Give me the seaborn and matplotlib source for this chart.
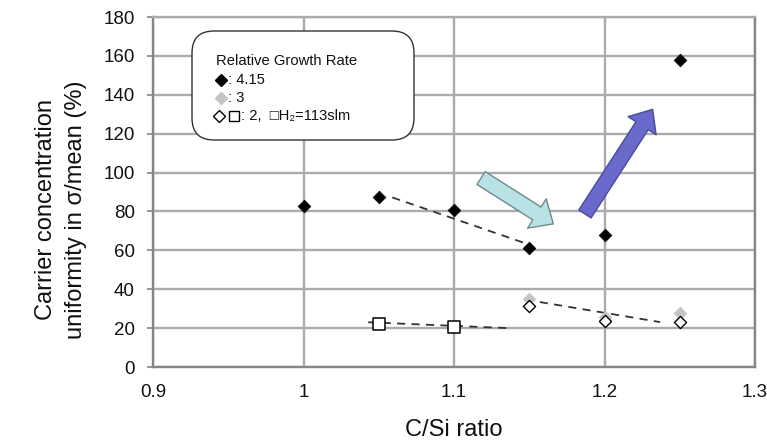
import matplotlib
matplotlib.use("Agg")
import matplotlib.pyplot as plt
import seaborn as sns
from matplotlib.lines import Line2D
from matplotlib.patches import FancyBboxPatch
from matplotlib.transforms import IdentityTransform

# ---- data ----
cs_415 = [1.0, 1.05, 1.1, 1.15, 1.2, 1.25]
u_415 = [82.6, 87.3, 81.0, 61.0, 68.0, 158.0]
cs_3 = [1.15, 1.2, 1.25]
u_3 = [35.0, 25.5, 28.0]
cs_2 = [1.15, 1.2, 1.25]
u_2 = [31.3, 23.5, 23.0]
cs_h2 = [1.05, 1.1]
u_h2 = [22.0, 20.5]

trend_415_x = [1.059, 1.146]
trend_415_y = [87.2, 64.0]
trend_h2_x = [1.043, 1.136]
trend_h2_y = [23.0, 20.0]
trend_2_x = [1.157, 1.237]
trend_2_y = [33.4, 23.1]

arrow_down_xy = [(1.118, 97.2), (1.166, 73.6)]
arrow_up_xy = [(1.187, 78.7), (1.232, 132.5)]

x_ticks = [0.9, 1.0, 1.1, 1.2, 1.3]
x_ticklabels = ["0.9", "1", "1.1", "1.2", "1.3"]
y_ticks = [0, 20, 40, 60, 80, 100, 120, 140, 160, 180]

legend_title = "Relative Growth Rate"
legend_labels = [": 4.15", ": 3", ": 2,  □H₂=113slm"]

sns.set_theme(style="white")
plt.rcParams["font.family"] = ["Liberation Sans", "DejaVu Sans"]

W, H = 767, 445
fig = plt.figure(figsize=(W / 100, H / 100), dpi=100)
ax = fig.add_axes([153 / W, 1 - 367 / H, 602 / W, 350 / H])

grid_c = "#ababab"
ax.set_xlim(0.9, 1.3)
ax.set_ylim(0, 180)
ax.set_xticks(x_ticks)
ax.set_xticklabels(x_ticklabels)
ax.set_yticks(y_ticks)
ax.grid(True, color=grid_c, linewidth=1.7)
ax.set_axisbelow(True)
for s in ax.spines.values():
    s.set_color("#858585")
    s.set_linewidth(1.7)
ax.spines["top"].set_color(grid_c)
ax.tick_params(axis="y", which="both", left=True, length=4, width=1.2,
               color="#858585", labelsize=13.5, pad=9, labelcolor="#111111")
ax.tick_params(axis="x", which="both", bottom=False, labelsize=13.5, pad=6,
               labelcolor="#111111")

# trend lines
dash_kw = dict(color="#333333", linewidth=1.3, dashes=(4.5, 3.5), zorder=2)
ax.plot(trend_415_x, trend_415_y, **dash_kw)
ax.plot(trend_h2_x, trend_h2_y, **dash_kw)
ax.plot(trend_2_x, trend_2_y, **dash_kw)

# markers
sns.scatterplot(x=cs_3, y=u_3, marker="D", s=42, color="#c4c4c4",
                edgecolor="#c4c4c4", linewidth=0.5, ax=ax, zorder=3)
sns.scatterplot(x=cs_2, y=u_2, marker="D", s=38, color="white",
                edgecolor="black", linewidth=1.0, ax=ax, zorder=4)
sns.scatterplot(x=cs_h2, y=u_h2, marker="s", s=75, color="white",
                edgecolor="black", linewidth=1.1, ax=ax, zorder=4)
sns.scatterplot(x=cs_415, y=u_415, marker="D", s=42, color="black",
                edgecolor="black", linewidth=0.5, ax=ax, zorder=5)

# arrows
ax.annotate("", xy=arrow_down_xy[1], xytext=arrow_down_xy[0],
            arrowprops=dict(arrowstyle="simple,head_length=14,head_width=25,tail_width=11",
                            mutation_scale=1, shrinkA=0, shrinkB=0,
                            fc="#b8e2e4", ec="#6e8a8c", lw=1.0), zorder=6)
ax.annotate("", xy=arrow_up_xy[1], xytext=arrow_up_xy[0],
            arrowprops=dict(arrowstyle="simple,head_length=14,head_width=24,tail_width=10.5",
                            mutation_scale=1, shrinkA=0, shrinkB=0,
                            fc="#6a6acc", ec="#4a4a99", lw=1.0), zorder=6)

# axis labels
ax.set_xlabel("C/Si ratio", fontsize=17, color="#111111")
ax.xaxis.set_label_coords(0.5, -0.148)
ax.set_ylabel("Carrier concentration\nuniformity in σ/mean (%)", fontsize=17,
              color="#111111", linespacing=1.45)
ax.yaxis.set_label_coords(-0.11, 0.45)

# legend (drawn in pixel coordinates)
px = IdentityTransform()
def P(x, y):
    return x, H - y

box = FancyBboxPatch(P(192, 140), 222, 109,
                     boxstyle="round,pad=0,rounding_size=22",
                     transform=px, fc="white", ec="#333333", lw=1.0,
                     zorder=8, clip_on=False)
ax.add_artist(box)
tkw = dict(transform=px, fontsize=10.6, color="#111111", va="center",
           ha="left", zorder=9, clip_on=False)
ax.text(*P(216, 61), legend_title, **tkw)
ax.text(*P(228, 80), legend_labels[0], **tkw)
ax.text(*P(228, 98), legend_labels[1], **tkw)
ax.text(*P(241, 116), legend_labels[2], **tkw)
mk = dict(transform=px, ls="none", zorder=9, clip_on=False)
ax.add_line(Line2D(*zip(P(221, 80)), marker="D", markersize=6.5,
                   mfc="black", mec="black", **mk))
ax.add_line(Line2D(*zip(P(221, 98)), marker="D", markersize=6.5,
                   mfc="#c4c4c4", mec="#c4c4c4", **mk))
ax.add_line(Line2D(*zip(P(219, 116)), marker="D", markersize=6,
                   mfc="white", mec="black", mew=1.0, **mk))
ax.add_line(Line2D(*zip(P(234, 116)), marker="s", markersize=6.5,
                   mfc="white", mec="black", mew=1.0, **mk))

fig.savefig("out.png", dpi=100)
